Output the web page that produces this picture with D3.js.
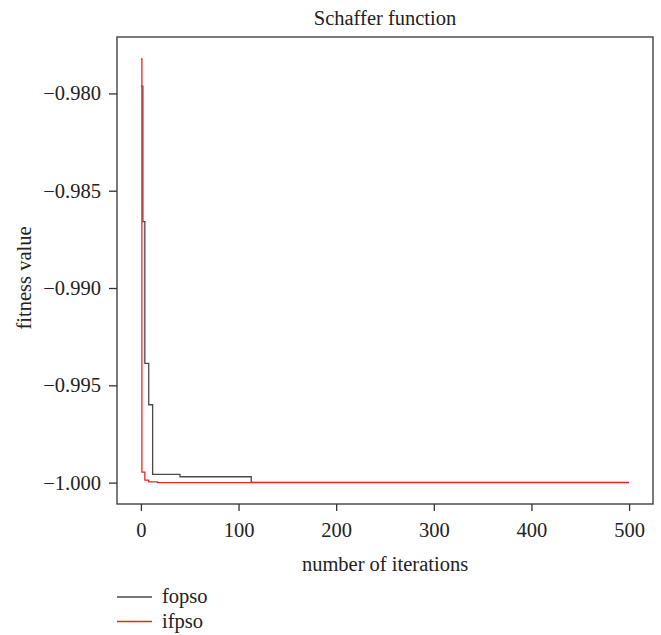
<!DOCTYPE html>
<html lang="en">
<head>
    <meta charset="UTF-8">
    <title>Schaffer function</title>
    <style>
        body { margin: 0; background: #fff; }
        svg { display: block; }
        text { font-family: "Liberation Serif", "DejaVu Serif", serif; fill: #222; }
    </style>
</head>
<body>

<svg id="chart" width="661" height="635"></svg>

<script src="https://d3js.org/d3.v7.min.js"></script>
<script>
    // Data: change points of best fitness per iteration
    const fopsoIter = [0, 2, 4, 8, 12, 40, 113, 500];
    const fopsoValue = [-0.97962, -0.98659, -0.99387, -0.99600, -0.99958, -0.99970, -0.99999, -0.99999];

    const ifpsoIter = [0, 1, 4, 8, 17, 500];
    const ifpsoValue = [-0.97822, -0.99946, -0.99987, -0.99996, -1.00000, -1.00000];

    const xTicks = [0, 100, 200, 300, 400, 500];
    const yTicks = [-0.980, -0.985, -0.990, -0.995, -1.000];

    const seriesNames = ["fopso", "ifpso"];
    const seriesColors = ["#4a4a4a", "#e8271e"];

    const fontSize = "20.5px";

    const svg = d3.select("#chart");

    // Plot box
    const box = {left: 117, right: 653, top: 37, bottom: 504};

    const x = d3.scaleLinear()
        .domain([-24.5, 524.5])
        .range([box.left, box.right]);

    const y = d3.scaleLinear()
        .domain([-1.0011, -0.9771])
        .range([box.bottom, box.top]);

    // Axes
    const xAxis = svg.append("g")
        .attr("transform", `translate(0,${box.bottom})`)
        .call(d3.axisBottom(x).tickValues(xTicks).tickSize(7).tickPadding(11).tickFormat(d3.format("d")));

    const yAxis = svg.append("g")
        .attr("transform", `translate(${box.left},0)`)
        .call(d3.axisLeft(y).tickValues(yTicks).tickSize(8).tickPadding(8).tickFormat(d3.format(".3f")));

    [xAxis, yAxis].forEach(a => {
        a.select(".domain").remove();
        a.selectAll(".tick line").attr("stroke", "#333").attr("stroke-width", 1.3);
        a.selectAll(".tick text")
            .style("font-family", "'Liberation Serif', serif")
            .style("font-size", fontSize)
            .attr("fill", "#222");
    });

    // Frame
    svg.append("rect")
        .attr("x", box.left)
        .attr("y", box.top)
        .attr("width", box.right - box.left)
        .attr("height", box.bottom - box.top)
        .attr("fill", "none")
        .attr("stroke", "#333")
        .attr("stroke-width", 1.3);

    // Lines
    const line = d3.line()
        .x(d => x(d[0]))
        .y(d => y(d[1]))
        .curve(d3.curveStepAfter);

    const series = [
        d3.zip(fopsoIter, fopsoValue),
        d3.zip(ifpsoIter, ifpsoValue)
    ];

    series.forEach((pts, i) => {
        svg.append("path")
            .datum(pts)
            .attr("d", line)
            .attr("fill", "none")
            .attr("stroke", seriesColors[i])
            .attr("stroke-width", 1.3);
    });

    // Titles
    svg.append("text")
        .attr("x", (box.left + box.right) / 2)
        .attr("y", 25)
        .attr("text-anchor", "middle")
        .style("font-size", fontSize)
        .text("Schaffer function");

    svg.append("text")
        .attr("x", (box.left + box.right) / 2)
        .attr("y", 571)
        .attr("text-anchor", "middle")
        .style("font-size", fontSize)
        .text("number of iterations");

    svg.append("text")
        .attr("transform", `translate(31,${278}) rotate(-90)`)
        .attr("text-anchor", "middle")
        .style("font-size", fontSize)
        .text("fitness value");

    // Legend
    const legend = svg.append("g").attr("transform", "translate(117,597)");
    seriesNames.forEach((name, i) => {
        const row = legend.append("g").attr("transform", `translate(0,${i * 24.5})`);
        row.append("line")
            .attr("x1", 0).attr("x2", 35)
            .attr("y1", 0).attr("y2", 0)
            .attr("stroke", seriesColors[i])
            .attr("stroke-width", 1.3);
        row.append("text")
            .attr("x", 45)
            .attr("y", 6)
            .style("font-size", fontSize)
            .text(name);
    });
</script>
</body>
</html>
